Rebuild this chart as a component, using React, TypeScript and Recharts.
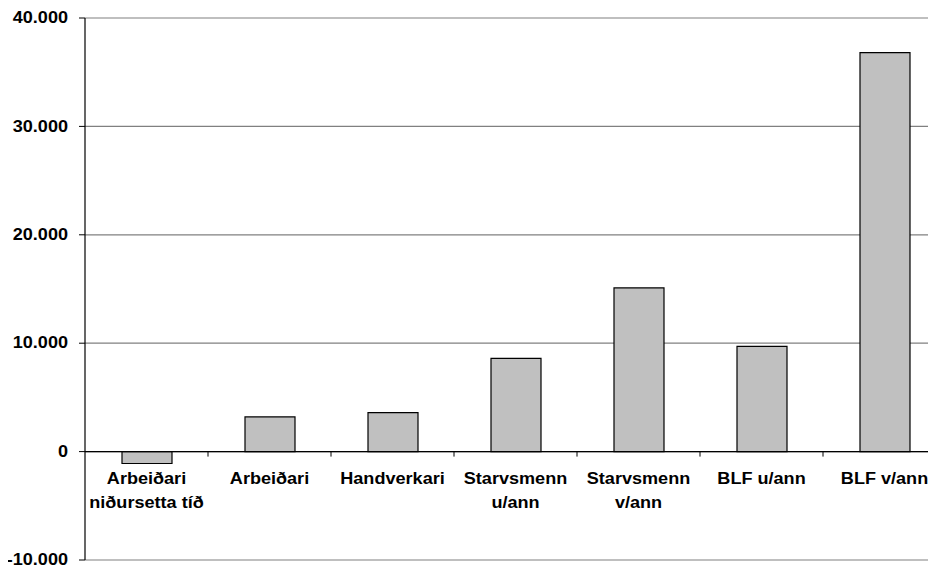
import React from "react";
import {
  BarChart,
  Bar,
  XAxis,
  YAxis,
  CartesianGrid,
  ReferenceLine,
} from "recharts";

// ---- data ----
const categories = [
  "Arbeiðari niðursetta tíð",
  "Arbeiðari",
  "Handverkari",
  "Starvsmenn u/ann",
  "Starvsmenn v/ann",
  "BLF u/ann",
  "BLF v/ann",
];
const categoryLines: string[][] = [
  ["Arbeiðari", "niðursetta tíð"],
  ["Arbeiðari"],
  ["Handverkari"],
  ["Starvsmenn", "u/ann"],
  ["Starvsmenn", "v/ann"],
  ["BLF u/ann"],
  ["BLF v/ann"],
];
const values = [-1100, 3200, 3600, 8600, 15100, 9700, 36800];
const yTicks = [-10000, 0, 10000, 20000, 30000, 40000];

const data = categories.map((name, i) => ({ name, value: values[i], lines: categoryLines[i] }));

// ---- layout ----
const CHART_W = 960;
const CHART_H = 564;
const MARGIN = { top: 10, right: 22, bottom: 0, left: 0 };
const Y_AXIS_W = 77;
const X_AXIS_H = 12;
const Y_MIN = -10000;
const Y_MAX = 40000;
const PLOT_W = CHART_W - MARGIN.left - MARGIN.right - Y_AXIS_W;
const PLOT_H = CHART_H - MARGIN.top - MARGIN.bottom - X_AXIS_H;
const ZERO_Y = MARGIN.top + (PLOT_H * (Y_MAX - 0)) / (Y_MAX - Y_MIN);
const BAND = PLOT_W / categories.length;

const FONT = "'Liberation Sans', Arial, sans-serif";
const SX = 1.13;

const fmt = (v: number) => {
  const s = String(Math.abs(v)).replace(/\B(?=(\d{3})+(?!\d))/g, ".");
  return v < 0 ? "-" + s : s;
};

const YTick = (props: any) => {
  const { x, y, payload } = props;
  return (
    <g transform={`translate(${x},${y})`}>
      <text
        transform={`scale(${SX},1)`}
        textAnchor="end"
        dominantBaseline="central"
        fontFamily={FONT}
        fontWeight="bold"
        fontSize={16}
        fill="#000"
      >
        {fmt(payload.value)}
      </text>
    </g>
  );
};

const XTick = (props: any) => {
  const { x, payload, index } = props;
  const lines = categoryLines[index] || [String(payload.value)];
  return (
    <g>
      {index > 0 && (
        <line x1={x - BAND / 2} x2={x - BAND / 2} y1={ZERO_Y} y2={ZERO_Y + 5} stroke="#000" strokeWidth={1} />
      )}
      {lines.map((ln, i) => (
        <g key={i} transform={`translate(${x},${ZERO_Y + 32.5 + i * 23.5})`}>
          <text
            transform={`scale(${SX},1)`}
            textAnchor="middle"
            fontFamily={FONT}
            fontWeight="bold"
            fontSize={16}
            fill="#000"
          >
            {ln}
          </text>
        </g>
      ))}
    </g>
  );
};

export default function App() {
  return (
    <div style={{ width: 928, height: CHART_H, overflow: "hidden", background: "#fff" }}>
      <BarChart width={CHART_W} height={CHART_H} data={data} margin={MARGIN}>
        <CartesianGrid horizontal vertical={false} stroke="#808080" strokeWidth={1.2} />
        <XAxis
          dataKey="name"
          height={X_AXIS_H}
          axisLine={false}
          tickLine={false}
          interval={0}
          tick={<XTick />}
        />
        <YAxis
          width={Y_AXIS_W}
          domain={[Y_MIN, Y_MAX]}
          ticks={yTicks}
          interval={0}
          axisLine={{ stroke: "#000", strokeWidth: 1.2 }}
          tickLine={{ stroke: "#000", strokeWidth: 1 }}
          tickSize={6}
          tickMargin={11}
          tick={<YTick />}
        />
        <ReferenceLine y={0} stroke="#000" strokeWidth={1.2} />
        <Bar
          dataKey="value"
          fill="#C0C0C0"
          stroke="#000"
          strokeWidth={1.2}
          barSize={50}
          isAnimationActive={false}
        />
      </BarChart>
    </div>
  );
}
